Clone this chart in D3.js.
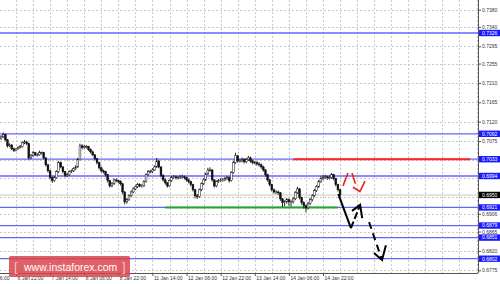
<!DOCTYPE html>
<html><head><meta charset="utf-8">
<script src="https://cdn.jsdelivr.net/npm/d3@7"></script>
<style>html,body{margin:0;padding:0;background:#fff;}svg{display:block;}</style>
</head><body><svg id="c" width="500" height="284"></svg>
<script>
// ---- data ----
const closes = [0.7085,0.7090,0.7078,0.7064,0.7066,0.7057,0.7053,0.7057,0.7060,0.7062,
0.7071,0.7073,0.7069,0.7036,0.7041,0.7048,0.7043,0.7043,0.7048,0.7048,
0.7036,0.7020,0.7006,0.6990,0.6983,0.6990,0.7004,0.7025,0.7015,0.7004,
0.6995,0.6997,0.7004,0.7006,0.7011,0.7015,0.7032,0.7064,0.7060,0.7062,
0.7062,0.7055,0.7050,0.7043,0.7034,0.7025,0.7013,0.7006,0.7004,0.6997,
0.6983,0.6971,0.6976,0.6985,0.6983,0.6981,0.6976,0.6957,0.6934,0.6939,
0.6948,0.6957,0.6964,0.6969,0.6974,0.6971,0.6971,0.6981,0.6997,0.7004,
0.7004,0.7008,0.7015,0.7029,0.7015,0.6995,0.6985,0.6978,0.6971,0.6983,
0.6990,0.6992,0.6990,0.6990,0.6992,0.6992,0.6990,0.6985,0.6981,0.6974,
0.6962,0.6948,0.6946,0.6962,0.6976,0.6985,0.6999,0.7008,0.7008,0.6985,
0.6971,0.6981,0.6983,0.6985,0.6985,0.6988,0.6990,0.6983,0.7002,0.7025,
0.7041,0.7029,0.7029,0.7032,0.7027,0.7032,0.7036,0.7029,0.7025,0.7025,
0.7022,0.7020,0.7015,0.7008,0.6997,0.6985,0.6974,0.6962,0.6957,0.6957,
0.6955,0.6941,0.6932,0.6934,0.6939,0.6934,0.6934,0.6941,0.6955,0.6964,
0.6944,0.6932,0.6925,0.6920,0.6930,0.6939,0.6948,0.6960,0.6969,0.6981,
0.6988,0.6990,0.6992,0.6990,0.6990,0.6997,0.6988,0.6974,0.6962,0.6950];
const opens = [0.7082,0.7085,0.7090,0.7078,0.7064,0.7066,0.7057,0.7053,0.7057,0.7060,
0.7062,0.7071,0.7073,0.7069,0.7036,0.7041,0.7048,0.7043,0.7043,0.7048,
0.7048,0.7036,0.7020,0.7006,0.6990,0.6983,0.6990,0.7004,0.7025,0.7015,
0.7004,0.6995,0.6997,0.7004,0.7006,0.7011,0.7015,0.7032,0.7064,0.7060,
0.7062,0.7062,0.7055,0.7050,0.7043,0.7034,0.7025,0.7013,0.7006,0.7004,
0.6997,0.6983,0.6971,0.6976,0.6985,0.6983,0.6981,0.6976,0.6957,0.6934,
0.6939,0.6948,0.6957,0.6964,0.6969,0.6974,0.6971,0.6971,0.6981,0.6997,
0.7004,0.7004,0.7008,0.7015,0.7029,0.7015,0.6995,0.6985,0.6978,0.6971,
0.6983,0.6990,0.6992,0.6990,0.6990,0.6992,0.6992,0.6990,0.6985,0.6981,
0.6974,0.6962,0.6948,0.6946,0.6962,0.6976,0.6985,0.6999,0.7008,0.7008,
0.6985,0.6971,0.6981,0.6983,0.6985,0.6985,0.6988,0.6990,0.6983,0.7002,
0.7025,0.7041,0.7029,0.7029,0.7032,0.7027,0.7032,0.7036,0.7029,0.7025,
0.7025,0.7022,0.7020,0.7015,0.7008,0.6997,0.6985,0.6974,0.6962,0.6957,
0.6957,0.6955,0.6941,0.6932,0.6934,0.6939,0.6934,0.6934,0.6941,0.6955,
0.6964,0.6944,0.6932,0.6925,0.6920,0.6930,0.6939,0.6948,0.6960,0.6969,
0.6981,0.6988,0.6990,0.6992,0.6990,0.6990,0.6997,0.6988,0.6974,0.6962];
const highs = [0.7089,0.7095,0.7092,0.7080,0.7070,0.7068,0.7060,0.7059,0.7063,0.7066,
0.7074,0.7078,0.7076,0.7071,0.7045,0.7052,0.7050,0.7047,0.7053,0.7051,
0.7050,0.7038,0.7022,0.7008,0.6993,0.6994,0.7007,0.7029,0.7027,0.7017,
0.7006,0.7001,0.7007,0.7009,0.7014,0.7019,0.7036,0.7069,0.7068,0.7066,
0.7066,0.7064,0.7058,0.7053,0.7045,0.7036,0.7027,0.7016,0.7009,0.7006,
0.6999,0.6985,0.6980,0.6988,0.6988,0.6986,0.6984,0.6978,0.6959,0.6943,
0.6951,0.6961,0.6968,0.6972,0.6978,0.6977,0.6975,0.6984,0.7000,0.7008,
0.7008,0.7012,0.7019,0.7036,0.7031,0.7017,0.6998,0.6988,0.6980,0.6986,
0.6994,0.6996,0.6995,0.6994,0.6996,0.6997,0.6995,0.6992,0.6988,0.6983,
0.6976,0.6964,0.6952,0.6965,0.6979,0.6989,0.7002,0.7013,0.7014,0.7010,
0.6987,0.6984,0.6987,0.6989,0.6989,0.6992,0.6994,0.6993,0.7005,0.7029,
0.7048,0.7043,0.7034,0.7037,0.7035,0.7036,0.7041,0.7039,0.7032,0.7029,
0.7028,0.7026,0.7023,0.7018,0.7010,0.6999,0.6987,0.6976,0.6965,0.6961,
0.6960,0.6957,0.6943,0.6938,0.6943,0.6942,0.6939,0.6945,0.6959,0.6969,
0.6966,0.6946,0.6935,0.6928,0.6934,0.6943,0.6952,0.6964,0.6973,0.6985,
0.6993,0.6996,0.6997,0.6995,0.6995,0.7001,0.6999,0.6990,0.6976,0.6964];
const lows = [0.7078,0.7082,0.7075,0.7060,0.7061,0.7054,0.7050,0.7051,0.7055,0.7058,
0.7060,0.7068,0.7066,0.7032,0.7033,0.7039,0.7040,0.7039,0.7041,0.7044,
0.7033,0.7016,0.7002,0.6986,0.6978,0.6980,0.6988,0.7001,0.7012,0.7000,
0.6991,0.6992,0.6994,0.7001,0.7003,0.7008,0.7013,0.7030,0.7056,0.7057,
0.7058,0.7052,0.7046,0.7040,0.7030,0.7021,0.7009,0.7002,0.7000,0.6993,
0.6979,0.6967,0.6968,0.6973,0.6979,0.6977,0.6972,0.6952,0.6928,0.6930,
0.6936,0.6945,0.6954,0.6961,0.6966,0.6968,0.6967,0.6969,0.6979,0.6994,
0.7000,0.7001,0.7006,0.7013,0.7012,0.6991,0.6981,0.6974,0.6967,0.6969,
0.6980,0.6987,0.6986,0.6986,0.6987,0.6988,0.6986,0.6981,0.6977,0.6970,
0.6958,0.6942,0.6941,0.6943,0.6959,0.6973,0.6982,0.6996,0.7004,0.6981,
0.6967,0.6968,0.6978,0.6980,0.6981,0.6982,0.6985,0.6979,0.6981,0.6999,
0.7022,0.7025,0.7025,0.7026,0.7023,0.7024,0.7029,0.7025,0.7021,0.7021,
0.7018,0.7016,0.7011,0.7004,0.6993,0.6981,0.6970,0.6958,0.6953,0.6952,
0.6950,0.6936,0.6922,0.6924,0.6930,0.6925,0.6923,0.6930,0.6938,0.6952,
0.6940,0.6927,0.6918,0.6910,0.6916,0.6927,0.6935,0.6945,0.6957,0.6966,
0.6978,0.6984,0.6987,0.6985,0.6986,0.6987,0.6984,0.6970,0.6958,0.6946];

const priceTicks = [0.7380,0.7340,0.7295,0.7255,0.7210,0.7165,0.7120,0.7075,0.7030,0.6990,0.6945,0.6906,0.6865,0.6820,0.6775];
const levels = [0.7326,0.7092,0.7033,0.6994,0.6921,0.6879,0.6851,0.6802];
const currentPrice = 0.6950;
const redLevel = 0.7033, redStart = 137, redEnd = 220;
const greenLevel = 0.6921, greenStart = 77, greenEnd = 158;
const timeLabels = ["6 Jan 06:00","6 Jan 22:00","7 Jan 14:00","8 Jan 06:00","8 Jan 22:00","11 Jan 14:00","12 Jan 06:00","12 Jan 22:00","13 Jan 14:00","14 Jan 06:00","14 Jan 22:00"];
const timeLabelBars = [-9,7,23,39,55,71,87,103,119,135,151];
// forecast arrows in (bar index, price)
const blackSolid = [[158.2,0.6952],[164.1,0.6873]];
const blackUp = [[164.1,0.6873],[168.0,0.6922]];
const blackUpHead = [[164.6,0.6913],[168.4,0.6927],[169.4,0.6896]];
const blackDown = [[172.6,0.6887],[178.6,0.6800]];
const blackDownHead = [[174.9,0.6815],[178.7,0.6799],[180.5,0.6833]];
const redPath = [[160.4,0.6971],[162.7,0.7001]];
const redPath2 = [[164.6,0.7001],[166.2,0.6976]];
const redHead = [[165.1,0.6968],[168.3,0.6958],[170.7,0.6982]];

// ---- layout ----
const svg = d3.select("#c");
const plotR = 478, plotB = 273;
const x = d3.scaleLinear().domain([7,151]).range([16,323]);
const y = d3.scaleLinear().domain([0.7326,0.6802]).range([33,258.7]);
const FONT = "Liberation Sans, Arial, sans-serif";

const g = svg.append("g");
// grid
const vBars = d3.range(-1, 226, 8);
g.selectAll("line.vg").data(vBars).join("line")
  .attr("x1",d=>Math.round(x(d))+0.5).attr("x2",d=>Math.round(x(d))+0.5)
  .attr("y1",0).attr("y2",plotB)
  .attr("stroke","#c8c8c8").attr("stroke-width",1).attr("stroke-dasharray","2,2");
g.selectAll("line.hg").data(priceTicks).join("line")
  .attr("x1",0).attr("x2",plotR)
  .attr("y1",d=>Math.round(y(d))+0.5).attr("y2",d=>Math.round(y(d))+0.5)
  .attr("stroke","#c8c8c8").attr("stroke-width",1).attr("stroke-dasharray","2,2");

// current price line
g.append("line").attr("x1",0).attr("x2",plotR).attr("y1",y(currentPrice)).attr("y2",y(currentPrice))
  .attr("stroke","#e2e2e2").attr("stroke-width",2);

// levels
g.selectAll("line.lv").data(levels).join("line")
  .attr("x1",0).attr("x2",plotR).attr("y1",d=>y(d)).attr("y2",d=>y(d))
  .attr("stroke","#6464ff").attr("stroke-width",1.3);
g.append("line").attr("x1",x(redStart)).attr("x2",x(redEnd)).attr("y1",y(redLevel)).attr("y2",y(redLevel))
  .attr("stroke","#ff2626").attr("stroke-width",2);
g.append("line").attr("x1",x(greenStart)).attr("x2",x(greenEnd)).attr("y1",y(greenLevel)).attr("y2",y(greenLevel))
  .attr("stroke","#1fa82a").attr("stroke-width",2);

// candles
const bars = closes.map((c,i)=>({i,o:opens[i],h:highs[i],l:lows[i],c}));
g.selectAll("line.wick").data(bars).join("line")
  .attr("x1",d=>x(d.i)).attr("x2",d=>x(d.i)).attr("y1",d=>y(d.h)).attr("y2",d=>y(d.l))
  .attr("stroke","#111").attr("stroke-width",0.9);
g.selectAll("rect.body").data(bars).join("rect")
  .attr("x",d=>x(d.i)-0.9).attr("width",1.8)
  .attr("y",d=>y(Math.max(d.o,d.c))).attr("height",d=>Math.max(0.8,Math.abs(y(d.o)-y(d.c))))
  .attr("fill",d=>d.c>=d.o?"#fff":"#111").attr("stroke","#111").attr("stroke-width",0.5);

// forecast arrows
const line = d3.line().x(d=>x(d[0])).y(d=>y(d[1]));
g.append("path").attr("d",line(blackSolid)).attr("fill","none").attr("stroke","#000").attr("stroke-width",2);
g.append("path").attr("d",line(blackUp)).attr("fill","none").attr("stroke","#000").attr("stroke-width",2).attr("stroke-dasharray","7,3");
g.append("path").attr("d",line(blackUpHead)).attr("fill","none").attr("stroke","#000").attr("stroke-width",2);
g.append("path").attr("d",line(blackDown)).attr("fill","none").attr("stroke","#000").attr("stroke-width",2).attr("stroke-dasharray","7,5");
g.append("path").attr("d",line(blackDownHead)).attr("fill","none").attr("stroke","#000").attr("stroke-width",2);
g.append("path").attr("d",line(redPath)).attr("fill","none").attr("stroke","#f02020").attr("stroke-width",1.6);
g.append("path").attr("d",line(redPath2)).attr("fill","none").attr("stroke","#f02020").attr("stroke-width",1.6);
g.append("path").attr("d",line(redHead)).attr("fill","none").attr("stroke","#f02020").attr("stroke-width",1.6);

// axes lines
g.append("line").attr("x1",plotR+0.5).attr("x2",plotR+0.5).attr("y1",0).attr("y2",plotB).attr("stroke","#555");
g.append("line").attr("x1",0).attr("x2",plotR).attr("y1",plotB+0.5).attr("y2",plotB+0.5).attr("stroke","#555");

// right axis via d3.axisRight
const labeled = [...levels, currentPrice];
const shownTicks = priceTicks.filter(t=>labeled.every(l=>Math.abs(y(l)-y(t))>5));
const yAxis = d3.axisRight(y).tickValues(shownTicks).tickSize(3).tickFormat(d3.format(".4f"));
const ya = svg.append("g").attr("transform",`translate(${plotR},0)`).call(yAxis);
ya.select(".domain").remove();
ya.selectAll("line").attr("stroke","#555");
ya.selectAll("text").attr("x",4).attr("font-size","5px").attr("font-family",FONT).attr("fill","#333");

// level labels
const lab = svg.append("g");
const allLabs = levels.map(v=>({v,bg:"#1a1aff"})).concat([{v:currentPrice,bg:"#000"}]);
lab.selectAll("rect").data(allLabs).join("rect")
  .attr("x",479).attr("y",d=>y(d.v)-3.2).attr("width",21).attr("height",6.4).attr("fill",d=>d.bg);
lab.selectAll("text").data(allLabs).join("text")
  .attr("x",482).attr("y",d=>y(d.v)+1.8).text(d=>d.v.toFixed(4))
  .attr("font-size","5px").attr("font-family",FONT).attr("fill","#fff");

// bottom axis
const xAxis = d3.axisBottom(x).tickValues(timeLabelBars).tickSize(3).tickFormat((d,i)=>timeLabels[i]);
const xa = svg.append("g").attr("transform",`translate(0,${plotB})`).call(xAxis);
xa.select(".domain").remove();
xa.selectAll("line").attr("stroke","#555");
xa.selectAll("text").attr("text-anchor","start").attr("x",1).attr("y",3).attr("dy","0.71em")
  .attr("font-size","5px").attr("font-family",FONT).attr("fill","#333");

// watermark
const wm = svg.append("g");
wm.append("rect").attr("x",9).attr("y",256).attr("width",121).attr("height",21).attr("rx",1.5)
  .attr("fill","#d9444c").attr("opacity",0.85);
wm.append("text").attr("x",14).attr("y",271).text("[").attr("fill","#f4c0c4").attr("font-size","13px").attr("font-family",FONT);
wm.append("text").attr("x",24).attr("y",271).text("www.instaforex.com").attr("fill","#fff").attr("font-size","10.5px").attr("font-family",FONT);
wm.append("text").attr("x",122).attr("y",271).text("]").attr("fill","#f4c0c4").attr("font-size","13px").attr("font-family",FONT);
</script></body></html>
